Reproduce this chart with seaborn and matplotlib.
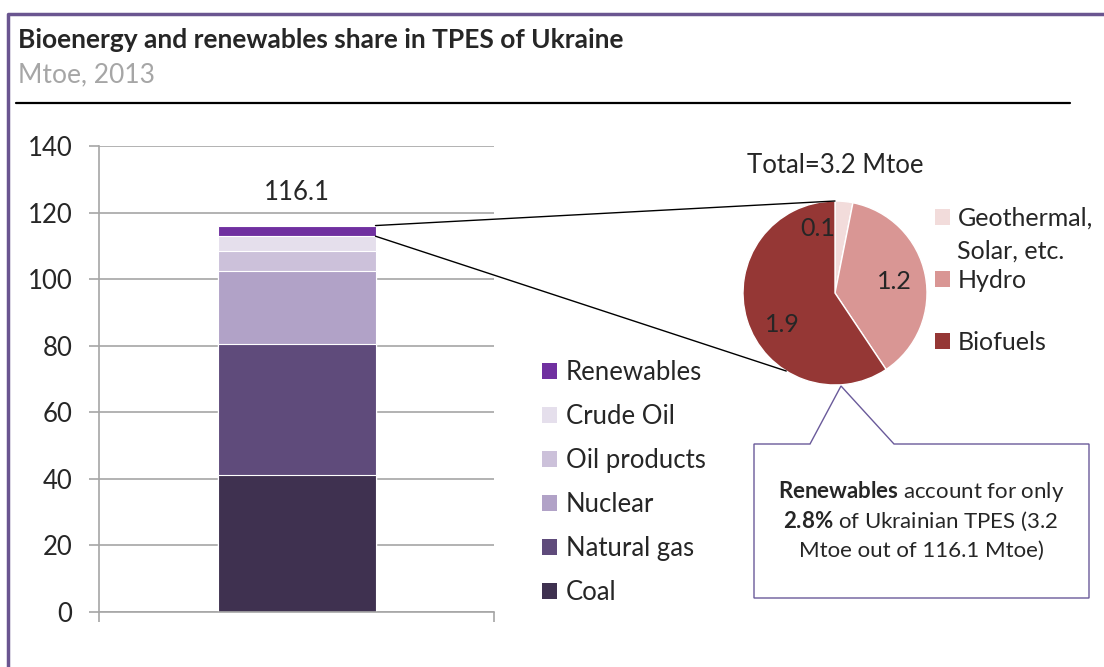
import numpy as np
import matplotlib
matplotlib.use("Agg")
import matplotlib.pyplot as plt
import seaborn as sns
from matplotlib.patches import Patch, Polygon, ConnectionPatch
from matplotlib.lines import Line2D

# TPES of Ukraine, Mtoe 2013 (bottom to top)
sources = ["Coal", "Natural gas", "Nuclear", "Oil products", "Crude Oil", "Renewables"]
values = [41.2, 39.3, 21.9, 6.0, 4.5, 3.2]
bar_colors = ["#3f3150", "#5f4b7b", "#b1a2c7", "#ccc1da", "#e5dfec", "#7030a0"]

# renewables breakdown
ren_labels = ["Geothermal,", "Hydro", "Biofuels"]
ren_values = [0.1, 1.2, 1.9]
pie_colors = ["#f2dcdb", "#d99694", "#953735"]

W, H = 1104, 667


def px(x, y):
    # pixel position -> figure fraction
    return x / W, 1 - y / H


sns.set_style("white")
plt.rcParams["font.family"] = ["Lato", "DejaVu Sans"]
plt.rcParams["mathtext.fontset"] = "custom"
plt.rcParams["mathtext.rm"] = "Lato"
plt.rcParams["mathtext.bf"] = "Lato:bold"

fig = plt.figure(figsize=(W / 100, H / 100), dpi=100)

# stacked bar
ax = fig.add_axes([99 / W, 1 - 612 / H, 395 / W, 466 / H])
cum = np.cumsum(values)
for i in range(len(values) - 1, -1, -1):
    sns.barplot(x=["TPES"], y=[cum[i]], color=bar_colors[i], saturation=1,
                width=0.8, edgecolor="white", linewidth=0.8, ax=ax)
ax.bar_label(ax.containers[0], labels=[f"{cum[-1]:.1f}"], padding=15, fontsize=18.5)
ax.set_xlim(-1, 1)
ax.set_ylim(0, 140)
ax.set_yticks(range(0, 141, 20))
ax.set_xticks([-1, 1])
ax.set_xticklabels([])
ax.set_xlabel("")
ax.set_ylabel("")
ax.yaxis.grid(True, color="#a6a6a6", linewidth=1.2)
ax.set_axisbelow(True)
for s in ["top", "right"]:
    ax.spines[s].set_visible(False)
for s in ["left", "bottom"]:
    ax.spines[s].set_color("#a6a6a6")
    ax.spines[s].set_linewidth(1.2)
ax.tick_params(axis="both", direction="out", length=7, width=1.2, color="#a6a6a6",
               labelsize=18.5, pad=12, left=True, bottom=True)

handles = [Patch(facecolor=c, edgecolor="none", label=l) for l, c in zip(sources, bar_colors)][::-1]
fig.legend(handles=handles, loc="upper left", bbox_to_anchor=px(532, 350), frameon=False,
           fontsize=18.5, handlelength=0.58, handleheight=0.58, handletextpad=0.33,
           labelspacing=0.735, borderaxespad=0)

# pie of renewables
pax = fig.add_axes([743 / W, 1 - 385 / H, 184 / W, 184 / H])
wedges, texts = pax.pie(ren_values, colors=pie_colors, startangle=90, counterclock=False,
                        labels=[f"{v:.1f}" for v in ren_values], labeldistance=0.66,
                        textprops={"fontsize": 18, "ha": "center", "va": "center"})
texts[0].set_position((-0.19, 0.70))
texts[2].set_position((-0.57, -0.34))
pax.set_xlim(-1, 1)
pax.set_ylim(-1, 1)
pax.set_aspect("equal")
fig.text(*px(835, 166), "Total=3.2 Mtoe", fontsize=18.5, ha="center", va="center")

pie_handles = [Patch(facecolor=c, edgecolor="none", label=l) for l, c in zip(ren_labels, pie_colors)]
fig.legend(handles=pie_handles, loc="upper left", bbox_to_anchor=px(925, 197), frameon=False,
           fontsize=18, handlelength=0.6, handleheight=0.6, handletextpad=0.33,
           labelspacing=1.55, borderaxespad=0)
fig.text(*px(957, 251), "Solar, etc.", fontsize=18, va="center")

# lines from bar top to pie
ang = np.deg2rad(238)
for yb, pt in [(cum[-1], (0, 1)), (cum[-2], (np.cos(ang), np.sin(ang)))]:
    con = ConnectionPatch(xyA=(0.4, yb), coordsA=ax.transData, xyB=pt, coordsB=pax.transData,
                          color="black", linewidth=1)
    fig.add_artist(con)

# callout box
box = [(754, 444), (810, 444), (841, 386), (894, 444), (1089, 444), (1089, 598), (754, 598)]
fig.add_artist(Polygon([px(x, y) for x, y in box], closed=True, transform=fig.transFigure,
                       facecolor="white", edgecolor="#6a5a9a", linewidth=1))
lines = [r"$\bf{Renewables}$ account for only",
         r"$\bf{2.8\%}$ of Ukrainian TPES (3.2",
         "Mtoe out of 116.1 Mtoe)"]
for k, t in enumerate(lines):
    fig.text(*px(921, 492 + 29.5 * k), t, fontsize=16, ha="center", va="center")

# title block and frame
fig.text(*px(18, 48), "Bioenergy and renewables share in TPES of Ukraine",
         fontsize=19, fontweight="bold", va="baseline")
fig.text(*px(18, 82), "Mtoe, 2013", fontsize=19, color="#a6a6a6", va="baseline")
fig.add_artist(Line2D([16 / W, 1070 / W], [1 - 103 / H] * 2, color="black", linewidth=1.6))
fig.add_artist(Line2D([8 / W, 8 / W, 1.0], [0, 1 - 14 / H, 1 - 14 / H],
                      color="#6a5590", linewidth=2.5))

fig.savefig("out.png", dpi=100)
